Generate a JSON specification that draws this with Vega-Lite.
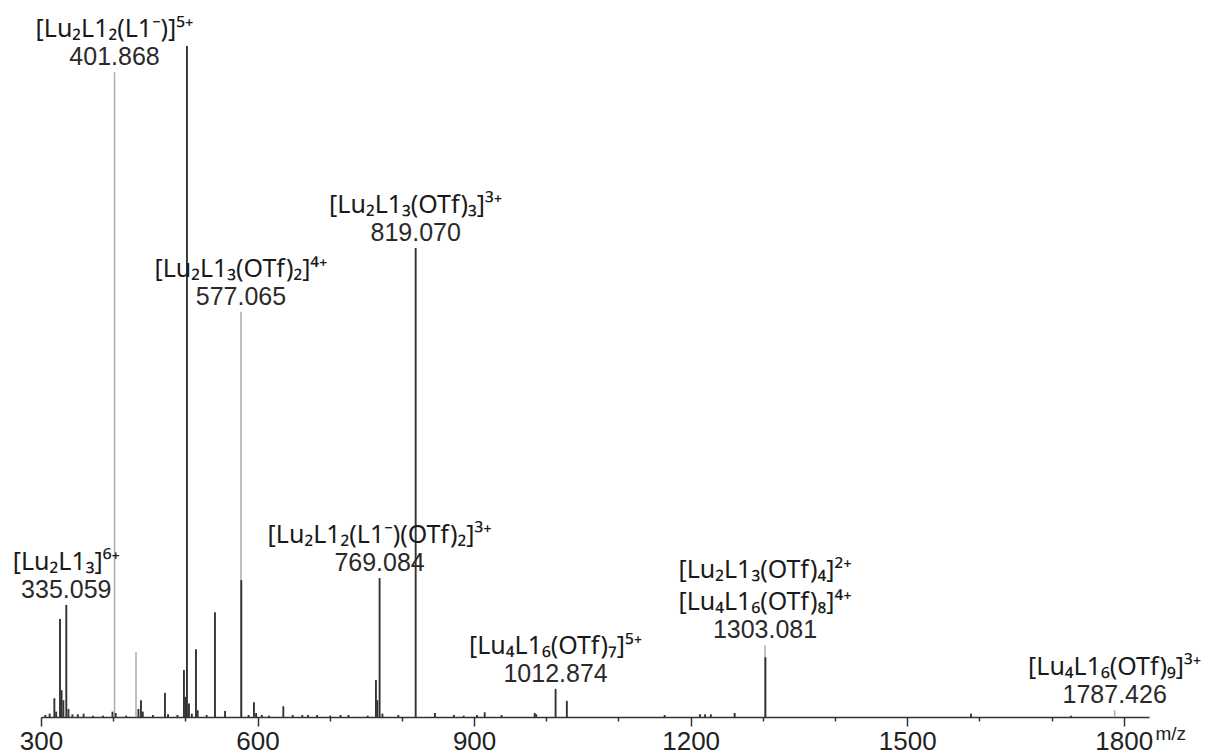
{
  "$schema": "https://vega.github.io/schema/vega-lite/v6.json",
  "width": 1108,
  "height": 671,
  "autosize": {"type": "none"},
  "padding": {"left": 41, "top": 46, "right": 61, "bottom": 39},
  "background": "white",
  "config": {"view": {"stroke": null}},
  "data": {
    "values": [
      {"mz": 306, "intensity": 0.3, "kind": "measured"},
      {"mz": 312, "intensity": 0.5, "kind": "measured"},
      {"mz": 318.5, "intensity": 2.8, "kind": "measured"},
      {"mz": 321, "intensity": 0.8, "kind": "measured"},
      {"mz": 326.3, "intensity": 14.6, "kind": "measured"},
      {"mz": 328.5, "intensity": 4, "kind": "measured"},
      {"mz": 331, "intensity": 2.5, "kind": "measured"},
      {"mz": 335.059, "intensity": 16.7, "kind": "measured", "formula": "[Lu₂L1₃]⁶⁺"},
      {"mz": 338, "intensity": 1.2, "kind": "measured"},
      {"mz": 343.5, "intensity": 0.4, "kind": "measured"},
      {"mz": 351, "intensity": 0.4, "kind": "measured"},
      {"mz": 359, "intensity": 0.5, "kind": "measured"},
      {"mz": 372, "intensity": 0.2, "kind": "measured"},
      {"mz": 386, "intensity": 0.2, "kind": "measured"},
      {"mz": 399, "intensity": 0.8, "kind": "measured"},
      {"mz": 403.5, "intensity": 0.6, "kind": "measured"},
      {"mz": 418, "intensity": 0.2, "kind": "measured"},
      {"mz": 435, "intensity": 1.2, "kind": "measured"},
      {"mz": 438.5, "intensity": 2.5, "kind": "measured"},
      {"mz": 441, "intensity": 0.8, "kind": "measured"},
      {"mz": 455, "intensity": 0.3, "kind": "measured"},
      {"mz": 471.7, "intensity": 3.6, "kind": "measured"},
      {"mz": 476, "intensity": 0.4, "kind": "measured"},
      {"mz": 489, "intensity": 0.3, "kind": "measured"},
      {"mz": 498, "intensity": 7.0, "kind": "measured"},
      {"mz": 500, "intensity": 3, "kind": "measured"},
      {"mz": 502.2, "intensity": 100, "kind": "measured"},
      {"mz": 505, "intensity": 2, "kind": "measured"},
      {"mz": 509, "intensity": 0.5, "kind": "measured"},
      {"mz": 514.7, "intensity": 10.1, "kind": "measured"},
      {"mz": 517, "intensity": 1.0, "kind": "measured"},
      {"mz": 529.5, "intensity": 0.3, "kind": "measured"},
      {"mz": 541, "intensity": 15.6, "kind": "measured"},
      {"mz": 555, "intensity": 0.9, "kind": "measured"},
      {"mz": 577.5, "intensity": 20.4, "kind": "measured"},
      {"mz": 587.6, "intensity": 0.3, "kind": "measured"},
      {"mz": 595, "intensity": 2.2, "kind": "measured"},
      {"mz": 598, "intensity": 0.6, "kind": "measured"},
      {"mz": 606, "intensity": 0.3, "kind": "measured"},
      {"mz": 616, "intensity": 0.2, "kind": "measured"},
      {"mz": 635.7, "intensity": 1.6, "kind": "measured"},
      {"mz": 648.7, "intensity": 0.3, "kind": "measured"},
      {"mz": 662, "intensity": 0.3, "kind": "measured"},
      {"mz": 670, "intensity": 0.3, "kind": "measured"},
      {"mz": 682.5, "intensity": 0.3, "kind": "measured"},
      {"mz": 700.6, "intensity": 0.2, "kind": "measured"},
      {"mz": 715, "intensity": 0.3, "kind": "measured"},
      {"mz": 726, "intensity": 0.3, "kind": "measured"},
      {"mz": 752.5, "intensity": 0.2, "kind": "measured"},
      {"mz": 764, "intensity": 5.5, "kind": "measured"},
      {"mz": 766, "intensity": 2.5, "kind": "measured"},
      {"mz": 769.084, "intensity": 20.7, "kind": "measured", "formula": "[Lu₂L1₂(L1⁻)(OTf)₂]³⁺"},
      {"mz": 773, "intensity": 0.5, "kind": "measured"},
      {"mz": 795, "intensity": 0.3, "kind": "measured"},
      {"mz": 819.07, "intensity": 69.9, "kind": "measured", "formula": "[Lu₂L1₃(OTf)₃]³⁺"},
      {"mz": 845.7, "intensity": 0.6, "kind": "measured"},
      {"mz": 872, "intensity": 0.3, "kind": "measured"},
      {"mz": 885.6, "intensity": 0.2, "kind": "measured"},
      {"mz": 904, "intensity": 0.3, "kind": "measured"},
      {"mz": 914.7, "intensity": 0.7, "kind": "measured"},
      {"mz": 938, "intensity": 0.3, "kind": "measured"},
      {"mz": 984, "intensity": 0.6, "kind": "measured"},
      {"mz": 986, "intensity": 0.4, "kind": "measured"},
      {"mz": 1012.874, "intensity": 4.2, "kind": "measured", "formula": "[Lu₄L1₆(OTf)₇]⁵⁺"},
      {"mz": 1028.5, "intensity": 2.4, "kind": "measured"},
      {"mz": 1164, "intensity": 0.3, "kind": "measured"},
      {"mz": 1213, "intensity": 0.4, "kind": "measured"},
      {"mz": 1220, "intensity": 0.4, "kind": "measured"},
      {"mz": 1228, "intensity": 0.4, "kind": "measured"},
      {"mz": 1261, "intensity": 0.6, "kind": "measured"},
      {"mz": 1303.6, "intensity": 8.9, "kind": "measured"},
      {"mz": 1588.5, "intensity": 0.5, "kind": "measured"},
      {"mz": 1727, "intensity": 0.2, "kind": "measured"},
      {"mz": 401.868, "intensity": 96.1, "kind": "reference", "formula": "[Lu₂L1₂(L1⁻)]⁵⁺"},
      {"mz": 431.6, "intensity": 9.7, "kind": "reference"},
      {"mz": 577.065, "intensity": 60.4, "kind": "reference", "formula": "[Lu₂L1₃(OTf)₂]⁴⁺"},
      {"mz": 1303.081, "intensity": 10.7, "kind": "reference", "formula": "[Lu₄L1₆(OTf)₈]⁴⁺", "formula2": "[Lu₂L1₃(OTf)₄]²⁺"},
      {"mz": 1787.426, "intensity": 1.0, "kind": "reference", "formula": "[Lu₄L1₆(OTf)₉]³⁺"}
    ]
  },
  "encoding": {
    "x": {
      "field": "mz",
      "type": "quantitative",
      "scale": {"domain": [300, 1835], "nice": false, "zero": false},
      "axis": {
        "values": [300, 400, 500, 600, 700, 800, 900, 1000, 1100, 1200, 1300, 1400, 1500, 1600, 1700, 1800],
        "labelExpr": "datum.value % 300 === 0 ? datum.label : ''",
        "format": "d",
        "grid": false,
        "domainColor": "#333333",
        "domainWidth": 1.5,
        "tickColor": "#333333",
        "tickWidth": 1.5,
        "tickSize": {"condition": {"test": "datum.value % 300 === 0", "value": 9}, "value": 4},
        "labelFont": "Liberation Sans",
        "labelFontSize": 26,
        "labelColor": "#222222",
        "labelPadding": 2,
        "labelFlush": false,
        "labelOverlap": false,
        "title": "m/z",
        "titleFont": "Liberation Sans",
        "titleFontSize": 19,
        "titleFontWeight": "normal",
        "titleColor": "#222222",
        "titleAlign": "left",
        "titleBaseline": "alphabetic",
        "titleX": 1114,
        "titleY": 22
      }
    },
    "y": {
      "field": "intensity",
      "type": "quantitative",
      "scale": {"domain": [0, 100], "nice": false},
      "axis": null
    }
  },
  "layer": [
    {
      "transform": [{"filter": "datum.kind === 'reference'"}],
      "mark": {"type": "rule", "color": "#ababab", "strokeWidth": 1.5},
      "encoding": {"y2": {"datum": 0}}
    },
    {
      "transform": [{"filter": "datum.kind === 'measured'"}],
      "mark": {"type": "rule", "color": "#333333", "strokeWidth": 1.9},
      "encoding": {"y2": {"datum": 0}}
    },
    {
      "transform": [{"filter": "datum.formula != null"}],
      "mark": {"type": "text", "font": "Liberation Sans", "fontSize": 25, "color": "#2a2a2a", "align": "center", "baseline": "alphabetic", "dy": -7},
      "encoding": {"text": {"field": "mz", "type": "quantitative", "format": ".3f"}}
    },
    {
      "transform": [{"filter": "datum.formula != null"}],
      "mark": {"type": "text", "font": "Noto Sans", "fontSize": 25, "color": "#1a1a1a", "align": "center", "baseline": "alphabetic", "dy": -35},
      "encoding": {"text": {"field": "formula", "type": "nominal"}}
    },
    {
      "transform": [{"filter": "datum.formula2 != null"}],
      "mark": {"type": "text", "font": "Noto Sans", "fontSize": 25, "color": "#1a1a1a", "align": "center", "baseline": "alphabetic", "dy": -67},
      "encoding": {"text": {"field": "formula2", "type": "nominal"}}
    }
  ]
}
